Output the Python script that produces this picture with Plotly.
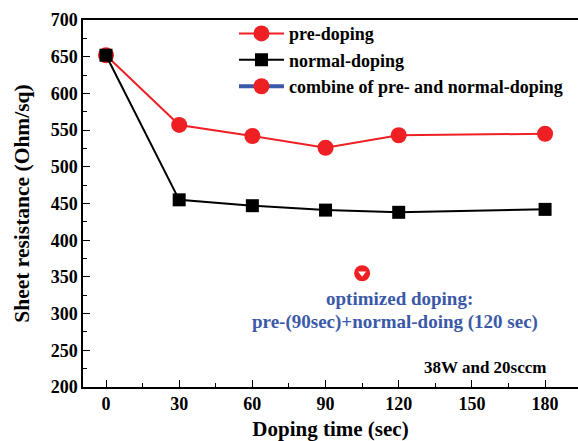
import plotly.graph_objects as go

time_sec = [0, 30, 60, 90, 120, 180]
pre_doping = [652, 557, 542, 526, 543, 545]
normal_doping = [652, 455, 447, 441, 438, 442]
combined_x = [105]
combined_y = [355]
x_ticks = [0, 30, 60, 90, 120, 150, 180]
y_ticks = [200, 250, 300, 350, 400, 450, 500, 550, 600, 650, 700]

FONT = "Liberation Serif"
BLUE = "#3a59a8"
RED = "#ee2024"

fig = go.Figure()
fig.add_trace(go.Scatter(
    x=time_sec, y=pre_doping, mode="lines+markers", name="pre-doping",
    line=dict(color=RED, width=2),
    marker=dict(symbol="circle", size=16, color=RED),
))
fig.add_trace(go.Scatter(
    x=time_sec, y=normal_doping, mode="lines+markers", name="normal-doping",
    line=dict(color="black", width=2),
    marker=dict(symbol="square", size=13, color="black"),
))
fig.add_trace(go.Scatter(
    x=combined_x, y=combined_y, mode="lines+markers",
    name="combine of pre- and normal-doping",
    line=dict(color=BLUE, width=4),
    marker=dict(symbol="circle", size=16, color=RED),
))
fig.add_trace(go.Scatter(
    x=combined_x, y=combined_y, mode="markers", showlegend=False,
    marker=dict(symbol="triangle-down", size=7, color="white",
                line=dict(width=0)),
    hoverinfo="skip",
))

fig.update_layout(
    width=578, height=441,
    margin=dict(l=83, r=0, t=20, b=54),
    plot_bgcolor="white", paper_bgcolor="white",
    font=dict(family=FONT, size=18, color="black"),
    legend=dict(
        x=0.305, y=1.013, xanchor="left", yanchor="top",
        bgcolor="rgba(0,0,0,0)", itemwidth=45,
        font=dict(family=FONT, size=18, color="black", weight="bold"),
        traceorder="normal", tracegroupgap=0,
    ),
    annotations=[
        dict(x=120.5, y=321, xref="x", yref="y", text="<b>optimized doping:</b>",
             showarrow=False, font=dict(family=FONT, size=19, color=BLUE)),
        dict(x=118.5, y=289, xref="x", yref="y",
             text="<b>pre-(90sec)+normal-doing (120 sec)</b>",
             showarrow=False, font=dict(family=FONT, size=19, color=BLUE)),
        dict(x=155.5, y=227, xref="x", yref="y", text="<b>38W and 20sccm</b>",
             showarrow=False, font=dict(family=FONT, size=17, color="black")),
    ],
)

fig.update_xaxes(
    range=[-9.43, 193.5], tickvals=x_ticks, ticktext=[f"<b>{v}</b>" for v in x_ticks],
    ticks="inside", ticklen=7, tickwidth=1.2, tickcolor="black",
    minor=dict(ticks="inside", ticklen=4, dtick=15, tick0=0, tickcolor="black", tickwidth=1.2),
    showline=True, linecolor="black", linewidth=1.5, mirror=True,
    showgrid=False, zeroline=False,
    tickfont=dict(family=FONT, size=18, color="black"),
    title=dict(text="<b>Doping time (sec)</b>", font=dict(family=FONT, size=21), standoff=10),
)
fig.update_yaxes(
    range=[200, 700], tickvals=y_ticks, ticktext=[f"<b>{v}</b>" for v in y_ticks],
    ticks="inside", ticklen=7, tickwidth=1.2, tickcolor="black",
    minor=dict(ticks="inside", ticklen=4, dtick=25, tick0=200, tickcolor="black", tickwidth=1.2),
    showline=True, linecolor="black", linewidth=1.5, mirror=False,
    showgrid=False, zeroline=False,
    tickfont=dict(family=FONT, size=18, color="black"),
    title=dict(text="<b>Sheet resistance (Ohm/sq)</b>", font=dict(family=FONT, size=21.5), standoff=15),
)

fig.write_html("out.html")
